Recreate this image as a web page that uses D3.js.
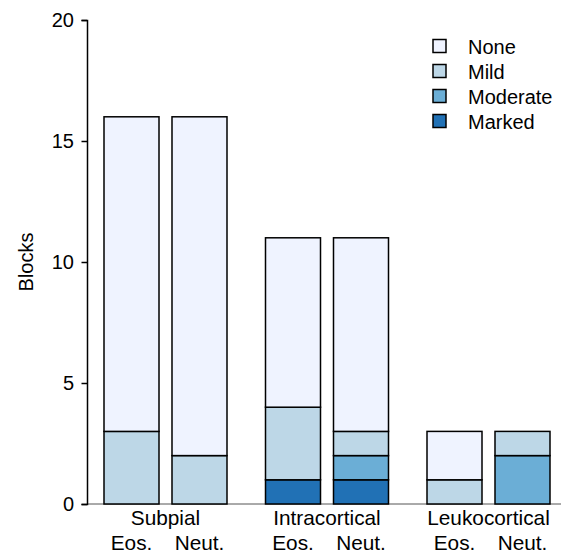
<!DOCTYPE html>
<html>
<head>
<meta charset="utf-8">
<script src="https://cdn.jsdelivr.net/npm/d3@7"></script>
<style>
  html, body { margin: 0; padding: 0; background: #fff; }
  svg text { font-family: "Liberation Sans", Arial, sans-serif; fill: #000; }
</style>
</head>
<body>
<svg id="chart" width="561" height="553"></svg>
<script>
// Lesion location groups and the two cell types within each
const groups = ["Subpial", "Intracortical", "Leukocortical"];
const cellTypes = ["Eos.", "Neut."];
const severities = ["None", "Mild", "Moderate", "Marked"];
const severityColors = ["#eff3ff", "#bdd7e7", "#6baed6", "#2171b5"];
const yTicks = [0, 5, 10, 15, 20];

// Block counts per bar, one array per severity (order: Subpial Eos, Subpial Neut, Intra Eos, Intra Neut, Leuko Eos, Leuko Neut)
const marked   = [0, 0, 1, 1, 0, 0];
const moderate = [0, 0, 0, 1, 0, 2];
const mild     = [3, 2, 3, 1, 1, 1];
const none     = [13, 14, 7, 8, 2, 0];

const rows = [];
groups.forEach((g, gi) => {
  cellTypes.forEach((c, ci) => {
    const i = gi * 2 + ci;
    rows.push({ group: g, cell: c, Marked: marked[i], Moderate: moderate[i], Mild: mild[i], None: none[i] });
  });
});

const FONT = "20px";
const XFONT = "20.8px";
const svg = d3.select("#chart");

const x0 = d3.scaleBand().domain(groups).range([84.75, 569.25]).paddingInner(0.2384).paddingOuter(0.1192);
const x1 = d3.scaleBand().domain(cellTypes).range([0, x0.bandwidth()]).paddingInner(13 / 68);
const y = d3.scaleLinear().domain([0, 20]).range([504, 20]);
const color = d3.scaleOrdinal().domain(severities).range(severityColors);

// Stack from the bottom: Marked, Moderate, Mild, None
const stackOrder = ["Marked", "Moderate", "Mild", "None"];
const stacked = d3.stack().keys(stackOrder)(rows);

// Baseline along the bottom
svg.append("line")
  .attr("x1", 87).attr("x2", 561)
  .attr("y1", y(0)).attr("y2", y(0))
  .attr("stroke", "#555").attr("stroke-width", 1);

// Bars
stacked.forEach(layer => {
  svg.append("g").selectAll("rect")
    .data(layer.filter(d => d[1] - d[0] > 0))
    .join("rect")
    .attr("x", d => x0(d.data.group) + x1(d.data.cell))
    .attr("width", x1.bandwidth())
    .attr("y", d => y(d[1]))
    .attr("height", d => y(d[0]) - y(d[1]))
    .attr("fill", color(layer.key))
    .attr("stroke", "#000")
    .attr("stroke-width", 1.5);
});

// Y axis
const yAxis = svg.append("g")
  .attr("transform", "translate(87,0)")
  .call(d3.axisLeft(y).tickValues(yTicks).tickSize(5.5).tickPadding(7.5));
yAxis.select(".domain").attr("stroke", "#000").attr("stroke-width", 1.5);
yAxis.selectAll(".tick line").attr("stroke", "#000").attr("stroke-width", 1.5);
yAxis.selectAll(".tick text")
  .style("font-family", "'Liberation Sans', Arial, sans-serif")
  .style("font-size", FONT).attr("fill", "#000");

svg.append("text")
  .attr("transform", "translate(33,262) rotate(-90)")
  .attr("text-anchor", "middle")
  .style("font-size", FONT)
  .text("Blocks");

// Group labels and cell-type labels below the bars
svg.append("g").selectAll("text")
  .data(groups)
  .join("text")
  .attr("x", d => x0(d) + x0.bandwidth() / 2)
  .attr("y", 525)
  .attr("text-anchor", "middle")
  .style("font-size", XFONT)
  .text(d => d);

svg.append("g").selectAll("text")
  .data(rows)
  .join("text")
  .attr("x", d => x0(d.group) + x1(d.cell) + x1.bandwidth() / 2)
  .attr("y", 550)
  .attr("text-anchor", "middle")
  .style("font-size", XFONT)
  .text(d => d.cell);

// Legend
const legend = svg.append("g").attr("transform", "translate(433,39.5)");
const li = legend.selectAll("g")
  .data(severities)
  .join("g")
  .attr("transform", (d, i) => `translate(0,${i * 25})`);
li.append("rect")
  .attr("width", 13).attr("height", 13)
  .attr("fill", d => color(d))
  .attr("stroke", "#000").attr("stroke-width", 1.5);
li.append("text")
  .attr("x", 35).attr("y", 14)
  .style("font-size", FONT)
  .text(d => d);
</script>
</body>
</html>
